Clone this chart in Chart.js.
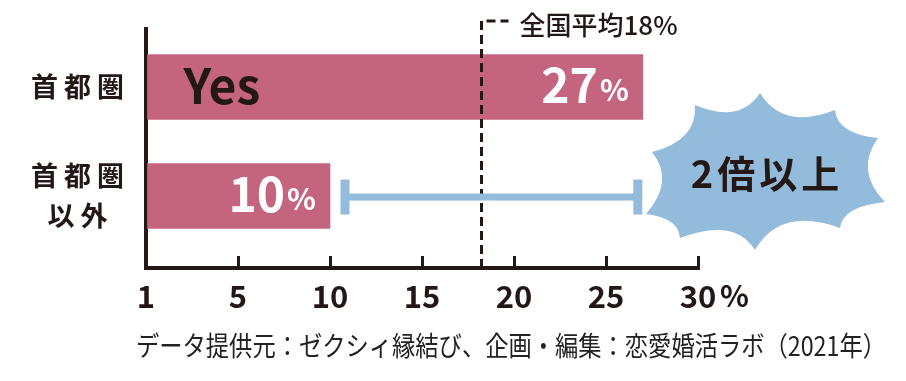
<!DOCTYPE html>
<html><head><meta charset="utf-8">
<script src="https://cdn.jsdelivr.net/npm/chart.js@4.4.1/dist/chart.umd.min.js"></script>
<style>html,body{margin:0;padding:0;background:#fff;overflow:hidden}</style>
</head><body>
<canvas id="c" width="906" height="381"></canvas>
<script>
// ---- data ----
const categories = ['首都圏', '首都圏以外'];
const categoryLines = [['首都圏'], ['首都圏', '以外']];
const values = [27, 10];
const barInnerLabels = ['Yes', ''];
const nationalAverage = 18;          // label value
const averageLinePosition = 18.2;     // where the dashed line sits in the picture
const xTickValues = [0, 5, 10, 15, 20, 25, 30];
const xTickLabels = ['1', '5', '10', '15', '20', '25', '30'];
const xUnit = '%';
const averageLabel = '全国平均' + nationalAverage + '%';
const calloutText = '2倍以上';
const sourceText = 'データ提供元：ゼクシィ縁結び、企画・編集：恋愛婚活ラボ（2021年）';

// ---- styles ----
const DARK = '#231815', PINK = '#c5647f', BLUE = '#93bbdb';
const JP = "'Noto Sans CJK JP', 'Noto Sans', sans-serif";

const decor = {
  id: 'decor',
  afterDatasetsDraw(chart) {
    const {ctx, chartArea: ca, scales: {x}} = chart;
    const meta = chart.getDatasetMeta(0);
    ctx.save();

    // cloud burst
    const cx = x.getPixelForValue(30) + 65;
    const cy = (meta.data[0].y + meta.data[1].y) / 2 + 31.5;
    const pts = [[-3,-80],[72,-63],[115,-35],[122,29],[77,55],[-8,77],[-83,65],[-117,41],[-111,-21],[-68,-68]];
    ctx.fillStyle = BLUE;
    ctx.beginPath();
    pts.forEach((p, i) => {
      const ax = cx + p[0], ay = cy + p[1];
      if (i === 0) ctx.moveTo(ax, ay);
      const q = pts[(i + 1) % pts.length];
      const bx = cx + q[0], by = cy + q[1];
      const mx = (ax + bx) / 2, my = (ay + by) / 2;
      const len = Math.hypot(bx - ax, by - ay);
      let nx = cx - mx, ny = cy - my; const nl = Math.hypot(nx, ny); nx /= nl; ny /= nl;
      const d = len * 0.42;
      ctx.quadraticCurveTo(mx + nx * d, my + ny * d, bx, by);
    });
    ctx.closePath();
    ctx.fill();
    ctx.fillStyle = DARK;
    ctx.font = `bold 38px ${JP}`;
    ctx.textAlign = 'center';
    ctx.textBaseline = 'middle';
    try { ctx.letterSpacing = '4px'; } catch (e) {}
    ctx.fillText(calloutText, cx + 4, cy + 1);
    try { ctx.letterSpacing = '0px'; } catch (e) {}

    // average dashed line
    const avx = Math.round(x.getPixelForValue(averageLinePosition)) + 0.5;
    const topY = ca.top - 8;
    ctx.strokeStyle = DARK; ctx.lineWidth = 3; ctx.setLineDash([9, 5]);
    ctx.beginPath(); ctx.moveTo(avx, ca.bottom); ctx.lineTo(avx, topY); ctx.lineTo(avx + 27, topY); ctx.stroke();
    ctx.setLineDash([]);
    ctx.fillStyle = DARK;
    ctx.font = `500 26px ${JP}`;
    ctx.textAlign = 'left'; ctx.textBaseline = 'middle';
    ctx.fillText(averageLabel, avx + 38, topY + 4, 162);

    // bracket between the two bars
    const by = meta.data[1].y + 1;
    const lx = x.getPixelForValue(values[1]) + 15, rx = x.getPixelForValue(values[0]) - 5;
    ctx.fillStyle = BLUE;
    ctx.fillRect(lx, by - 3.5, rx - lx, 7);
    ctx.fillRect(lx - 4.5, by - 17.5, 9, 35);
    ctx.fillRect(rx - 4.5, by - 17.5, 9, 35);

    // bar labels
    meta.data.forEach((el, i) => {
      const ey = el.y;
      ctx.textBaseline = 'alphabetic';
      ctx.textAlign = 'right';
      ctx.fillStyle = '#fff';
      ctx.font = `bold 30px ${JP}`;
      const px = el.x - 14;
      ctx.fillText('%', px, ey + 14);
      const pw = ctx.measureText('%').width;
      ctx.font = `bold 48px ${JP}`;
      ctx.fillText(String(values[i]), px - pw - 2, ey + 16);
      if (barInnerLabels[i]) {
        ctx.fillStyle = DARK; ctx.textAlign = 'left';
        ctx.fillText(barInnerLabels[i], el.base + 36, ey + 17);
      }
    });
    ctx.restore();
  },
  afterDraw(chart) {
    const {ctx, scales: {x}} = chart;
    ctx.save();
    ctx.fillStyle = DARK;
    ctx.font = `bold 30px ${JP}`;
    ctx.textAlign = 'left'; ctx.textBaseline = 'middle';
    ctx.fillText(xUnit, x.getPixelForValue(30) + 22, x.top + 28);
    // source line, fitted to its width in the reference
    ctx.font = `400 27px ${JP}`;
    ctx.fillStyle = '#222';
    const w = ctx.measureText(sourceText).width;
    ctx.translate(136, 346);
    ctx.scale(750 / w, 1);
    ctx.fillText(sourceText, 0, 0);
    ctx.restore();
  }
};

function spacedLabels(s) {
  if (s._spaced) return;
  s._spaced = true;
  const orig = s.drawLabels.bind(s);
  s.drawLabels = function (area) {
    const c = s.ctx;
    c.save();
    try { c.letterSpacing = '6px'; } catch (e) {}
    c.translate(3, 0);
    orig(area);
    c.restore();
  };
}

new Chart(document.getElementById('c'), {
  type: 'bar',
  data: {
    labels: categories,
    datasets: [{
      data: values.map((v, i) => ({x: v, y: i})),
      backgroundColor: PINK,
      borderWidth: 0,
      barThickness: 65
    }]
  },
  options: {
    indexAxis: 'y',
    responsive: false,
    animation: false,
    devicePixelRatio: 1,
    layout: {padding: {top: 29, right: 208, bottom: 0, left: 0}},
    plugins: {legend: {display: false}, tooltip: {enabled: false}},
    scales: {
      x: {
        type: 'linear', position: 'bottom', min: 0, max: 30, offset: false,
        afterBuildTicks: s => { s.ticks = xTickValues.map(v => ({value: v})); },
        afterFit: s => { s.height = 113; s.paddingLeft = 0; s.paddingRight = 0; },
        ticks: {
          callback: (v, i) => xTickLabels[i],
          font: {family: JP, size: 31, weight: 'bold'},
          color: DARK, padding: 22, maxRotation: 0, autoSkip: false
        },
        grid: {drawOnChartArea: false, drawTicks: true, tickLength: -12, color: DARK, lineWidth: 3, offset: false},
        border: {display: true, color: DARK, width: 4}
      },
      y: {
        type: 'linear', reverse: true, min: -0.532, max: 1.66, offset: false,
        afterBuildTicks: s => { s.ticks = categories.map((c, i) => ({value: i})); },
        afterFit: s => { s.width = 146; s.paddingTop = 0; s.paddingBottom = 0; spacedLabels(s); },
        ticks: {
          callback: (v, i) => categoryLines[i],
          crossAlign: 'center',
          font: {family: JP, size: 27, weight: 'bold', lineHeight: 1.48},
          color: DARK, padding: 28
        },
        grid: {display: false, drawTicks: false, offset: false},
        border: {display: true, color: DARK, width: 4}
      }
    }
  },
  plugins: [decor]
});
</script>
</body></html>
